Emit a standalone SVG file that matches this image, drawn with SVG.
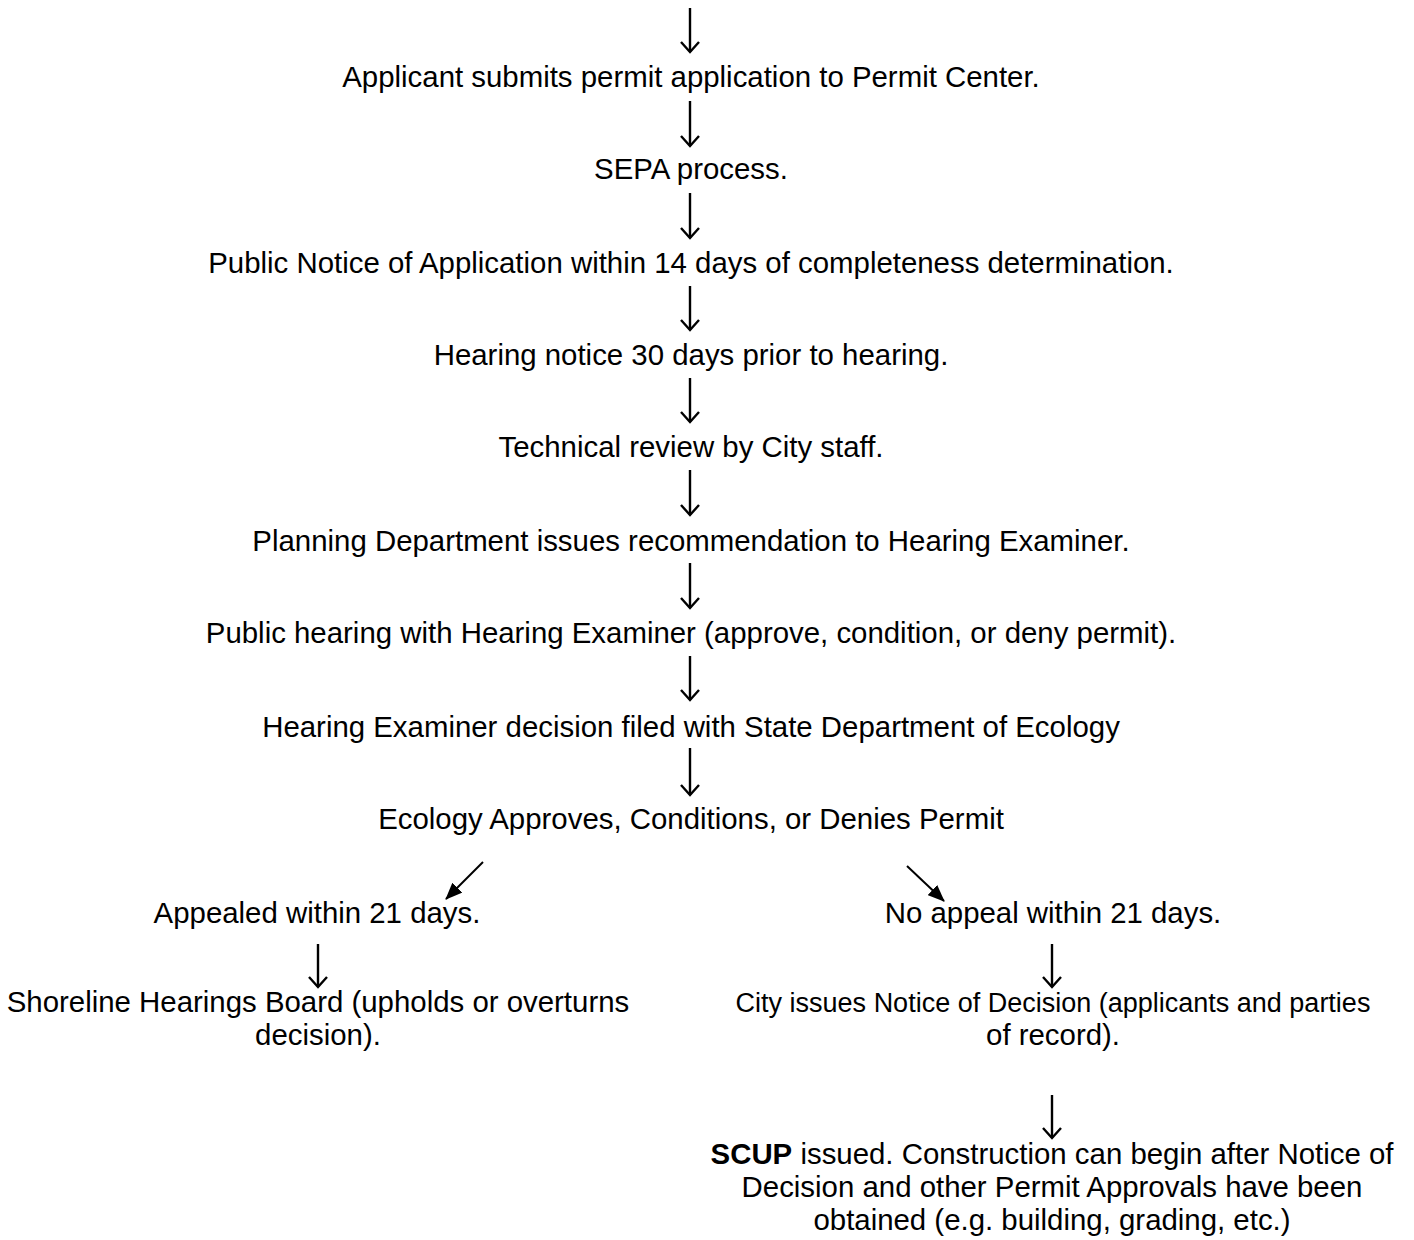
<svg xmlns="http://www.w3.org/2000/svg" width="1414" height="1240" viewBox="0 0 1414 1240">
<defs>
<style>
text{font-family:"Liberation Sans",Arial,sans-serif;font-size:29.4px;fill:#000;text-anchor:middle}
.ar{stroke:#000;stroke-width:2.4;fill:none}
.hd{stroke:#000;stroke-width:2.4;fill:none;stroke-linejoin:miter}
.dg{stroke:#000;stroke-width:2;fill:none}
</style>
<marker id="tri" viewBox="0 0 17 14" refX="16" refY="7" markerWidth="17" markerHeight="14" orient="auto" markerUnits="userSpaceOnUse">
<path d="M0,0 L17,7 L0,14 z" fill="#000"/>
</marker>
</defs>
<rect width="1414" height="1240" fill="#fff"/>
<g id="connectors">
<g id="a0"><path class="ar" d="M690,8 V52"/><path class="hd" d="M681,42 L690,52 L699,42"/></g>
<g id="a1"><path class="ar" d="M690,101 V146"/><path class="hd" d="M681,136 L690,146 L699,136"/></g>
<g id="a2"><path class="ar" d="M690,193 V238"/><path class="hd" d="M681,228 L690,238 L699,228"/></g>
<g id="a3"><path class="ar" d="M690,286 V330"/><path class="hd" d="M681,320 L690,330 L699,320"/></g>
<g id="a4"><path class="ar" d="M690,378 V422"/><path class="hd" d="M681,412 L690,422 L699,412"/></g>
<g id="a5"><path class="ar" d="M690,470 V515"/><path class="hd" d="M681,505 L690,515 L699,505"/></g>
<g id="a6"><path class="ar" d="M690,563 V608"/><path class="hd" d="M681,598 L690,608 L699,598"/></g>
<g id="a7"><path class="ar" d="M690,656 V700"/><path class="hd" d="M681,690 L690,700 L699,690"/></g>
<g id="a8"><path class="ar" d="M690,748 V795"/><path class="hd" d="M681,785 L690,795 L699,785"/></g>
<path class="dg" d="M483,862 L446,899" marker-end="url(#tri)"/>
<path class="dg" d="M907,866 L944,901" marker-end="url(#tri)"/>
<g id="a9"><path class="ar" d="M318,944 V987"/><path class="hd" d="M309,977 L318,987 L327,977"/></g>
<g id="a10"><path class="ar" d="M1052,944 V987"/><path class="hd" d="M1043,977 L1052,987 L1061,977"/></g>
<g id="a11"><path class="ar" d="M1052,1095 V1138"/><path class="hd" d="M1043,1128 L1052,1138 L1061,1128"/></g>
</g>
<g id="n1"><text x="691" y="87">Applicant submits permit application to Permit Center.</text></g>
<g id="n2"><text x="691" y="179">SEPA process.</text></g>
<g id="n3"><text x="691" y="273">Public Notice of Application within 14 days of completeness determination.</text></g>
<g id="n4"><text x="691" y="365">Hearing notice 30 days prior to hearing.</text></g>
<g id="n5"><text x="691" y="457">Technical review by City staff.</text></g>
<g id="n6"><text x="691" y="551">Planning Department issues recommendation to Hearing Examiner.</text></g>
<g id="n7"><text x="691" y="643">Public hearing with Hearing Examiner (approve, condition, or deny permit).</text></g>
<g id="n8"><text x="691" y="737">Hearing Examiner decision filed with State Department of Ecology</text></g>
<g id="n9"><text x="691" y="829">Ecology Approves, Conditions, or Denies Permit</text></g>
<g id="n10"><text x="317" y="923">Appealed within 21 days.</text></g>
<g id="n11"><text x="1053" y="923">No appeal within 21 days.</text></g>
<g id="n12"><text x="318" y="1012">Shoreline Hearings Board (upholds or overturns</text><text x="318" y="1045">decision).</text></g>
<g id="n13"><text x="1053" y="1012" style="font-size:27px">City issues Notice of Decision (applicants and parties</text><text x="1053" y="1045">of record).</text></g>
<g id="n14"><text x="1052" y="1164"><tspan font-weight="bold">SCUP</tspan> issued. Construction can begin after Notice of</text><text x="1052" y="1197">Decision and other Permit Approvals have been</text><text x="1052" y="1230">obtained (e.g. building, grading, etc.)</text></g>
</svg>
